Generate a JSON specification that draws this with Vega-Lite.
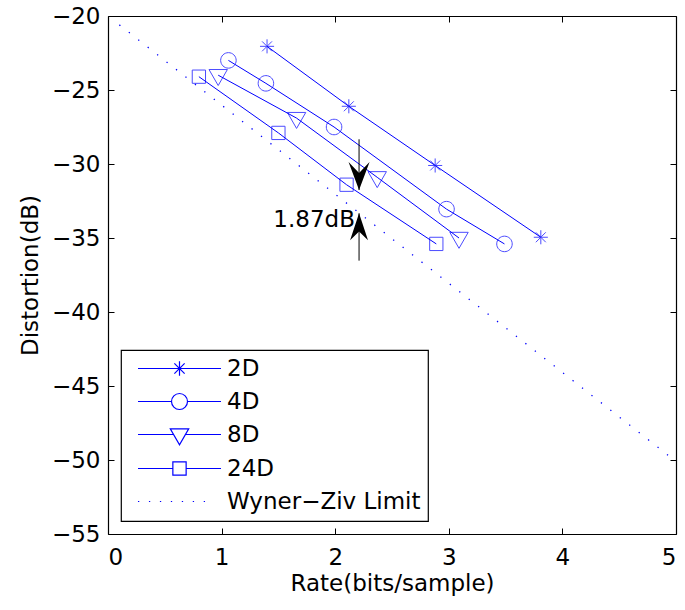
{
  "$schema": "https://vega.github.io/schema/vega-lite/v6.json",
  "width": 568,
  "height": 518,
  "autosize": "none",
  "padding": {"left": 108, "top": 16, "right": 9, "bottom": 76},
  "background": "white",
  "config": {
    "view": {"stroke": null},
    "font": "DejaVu Sans",
    "axis": {
      "grid": false,
      "domainColor": "black",
      "domainWidth": 1.2,
      "tickColor": "black",
      "tickWidth": 1,
      "tickSize": -6,
      "labelColor": "black",
      "titleColor": "black",
      "labelFont": "DejaVu Sans",
      "titleFont": "DejaVu Sans",
      "labelFontSize": 23,
      "titleFontSize": 23,
      "titleFontWeight": "normal"
    },
    "legend": {
      "orient": "bottom-left",
      "offset": 13,
      "strokeColor": "black",
      "strokeWidth": 1.2,
      "fillColor": "white",
      "padding": 7,
      "symbolSize": 256,
      "symbolStrokeWidth": 1.2,
      "symbolOpacity": 1,
      "labelFont": "DejaVu Sans",
      "labelFontSize": 23,
      "labelColor": "black",
      "labelLimit": 400,
      "labelOffset": 36,
      "symbolOffset": 40,
      "rowPadding": 9
    }
  },
  "datasets": {
    "curves": [
      {"series": "2D", "rate": 1.40, "dist": -22.05},
      {"series": "2D", "rate": 2.12, "dist": -26.1},
      {"series": "2D", "rate": 2.88, "dist": -30.1},
      {"series": "2D", "rate": 3.81, "dist": -34.95},
      {"series": "4D", "rate": 1.06, "dist": -23.0},
      {"series": "4D", "rate": 1.39, "dist": -24.55},
      {"series": "4D", "rate": 1.99, "dist": -27.5},
      {"series": "4D", "rate": 2.98, "dist": -33.05},
      {"series": "4D", "rate": 3.49, "dist": -35.4},
      {"series": "8D", "rate": 0.97, "dist": -24.0},
      {"series": "8D", "rate": 1.66, "dist": -26.9},
      {"series": "8D", "rate": 2.37, "dist": -30.9},
      {"series": "8D", "rate": 3.09, "dist": -35.0},
      {"series": "24D", "rate": 0.80, "dist": -24.1},
      {"series": "24D", "rate": 1.50, "dist": -27.9},
      {"series": "24D", "rate": 2.10, "dist": -31.4},
      {"series": "24D", "rate": 2.89, "dist": -35.4}
    ],
    "limit": [
      {"series": "Wyner−Ziv Limit", "rate": 0.1, "dist": -20.6},
      {"series": "Wyner−Ziv Limit", "rate": 5.0, "dist": -50.1}
    ],
    "shafts": [
      {"rate": 2.21, "d1": -28.33, "d2": -31.76},
      {"rate": 2.21, "d1": -33.33, "d2": -36.53}
    ],
    "downArrow": [{"rate": 2.21, "dist": -31.76}],
    "upArrow": [{"rate": 2.21, "dist": -33.33}],
    "note": [{"rate": 2.174, "dist": -34.28, "label": "1.87dB"}]
  },
  "layer": [
    {
      "data": {"name": "limit"},
      "mark": {"type": "line", "color": "#0000ff", "strokeWidth": 1.3, "strokeDash": [1.3, 10.7], "strokeCap": "butt"},
      "encoding": {
        "x": {"field": "rate", "type": "quantitative", "scale": {"domain": [0, 5], "nice": false, "zero": false},
              "axis": {"orient": "top", "labels": false, "title": null, "values": [0, 1, 2, 3, 4, 5]}},
        "y": {"field": "dist", "type": "quantitative", "scale": {"domain": [-55, -20], "nice": false, "zero": false},
              "axis": {"orient": "right", "labels": false, "title": null, "values": [-55, -50, -45, -40, -35, -30, -25, -20]}}
      }
    },
    {
      "data": {"name": "curves"},
      "mark": {"type": "line", "color": "#0000ff", "strokeWidth": 1},
      "encoding": {
        "x": {"field": "rate", "type": "quantitative",
              "axis": {"orient": "bottom", "title": "Rate(bits/sample)", "values": [0, 1, 2, 3, 4, 5], "labelPadding": 18,
                       "titleX": 284, "titleY": 56, "titleBaseline": "alphabetic", "titleAnchor": "middle", "titleAlign": "center"}},
        "y": {"field": "dist", "type": "quantitative",
              "axis": {"orient": "left", "title": "Distortion(dB)", "values": [-55, -50, -45, -40, -35, -30, -25, -20], "labelPadding": 14,
                       "titleX": -71, "titleY": 259, "titleBaseline": "alphabetic", "titleAngle": -90, "titleAlign": "center"}},
        "detail": {"field": "series", "type": "nominal"}
      }
    },
    {
      "data": {"name": "curves"},
      "mark": {"type": "point", "filled": false, "color": "#0000ff", "size": 256, "strokeWidth": 1},
      "encoding": {
        "x": {"field": "rate", "type": "quantitative", "axis": null},
        "y": {"field": "dist", "type": "quantitative", "axis": null},
        "shape": {"field": "series", "type": "nominal", "legend": null,
                  "scale": {"domain": ["2D", "4D", "8D", "24D"],
                            "range": [
                              "M-0.88,0H0.88M0,-0.88V0.88M-0.62,-0.62L0.62,0.62M-0.62,0.62L0.62,-0.62",
                              "M-0.97,0A0.97,0.97,0,1,1,0.97,0A0.97,0.97,0,1,1,-0.97,0",
                              "M-1.15,-0.71H1.15L0,1.29Z",
                              "M-0.83,-0.83H0.83V0.83H-0.83Z"
                            ]}}
      }
    },
    {
      "data": {"name": "curves"},
      "mark": {"type": "point", "filled": false, "color": "#0000ff", "size": 256, "strokeWidth": 1.2, "opacity": 0},
      "encoding": {
        "x": {"field": "rate", "type": "quantitative", "axis": null},
        "y": {"field": "dist", "type": "quantitative", "axis": null},
        "shape": {"field": "series", "type": "nominal",
                  "legend": {"title": null},
                  "scale": {"domain": ["2D", "4D", "8D", "24D", "Wyner−Ziv Limit"],
                            "range": [
                              "M-5.19,0H5.19M0,-0.9V0.9M-0.64,-0.64L0.64,0.64M-0.64,0.64L0.64,-0.64",
                              "M-5.19,0H-1M1,0H5.19M-1,0A1,1,0,1,1,1,0A1,1,0,1,1,-1,0",
                              "M-5.19,0H-0.74M0.74,0H5.19M-1.15,-0.71H1.15L0,1.29Z",
                              "M-5.19,0H-0.83M0.83,0H5.19M-0.83,-0.83H0.83V0.83H-0.83Z",
                              "M-5.19,0h0.16M-3.82,0h0.16M-2.45,0h0.16M-1.08,0h0.16M0.29,0h0.16M1.66,0h0.16M3.03,0h0.16"
                            ]}}
      }
    },
    {
      "data": {"name": "shafts"},
      "mark": {"type": "rule", "color": "black", "strokeWidth": 1},
      "encoding": {
        "x": {"field": "rate", "type": "quantitative", "axis": null},
        "y": {"field": "d1", "type": "quantitative", "axis": null},
        "y2": {"field": "d2"}
      }
    },
    {
      "data": {"name": "downArrow"},
      "mark": {"type": "point", "filled": true, "color": "black", "opacity": 1, "size": 784, "strokeWidth": 0,
               "shape": "M0,0L-0.75,-2L0,-1.21L0.75,-2Z"},
      "encoding": {
        "x": {"field": "rate", "type": "quantitative", "axis": null},
        "y": {"field": "dist", "type": "quantitative", "axis": null}
      }
    },
    {
      "data": {"name": "upArrow"},
      "mark": {"type": "point", "filled": true, "color": "black", "opacity": 1, "size": 784, "strokeWidth": 0,
               "shape": "M0,0L-0.64,1.93L0,1.31L0.64,1.93Z"},
      "encoding": {
        "x": {"field": "rate", "type": "quantitative", "axis": null},
        "y": {"field": "dist", "type": "quantitative", "axis": null}
      }
    },
    {
      "data": {"name": "note"},
      "mark": {"type": "text", "align": "right", "baseline": "alphabetic", "font": "DejaVu Sans", "fontSize": 23, "color": "black"},
      "encoding": {
        "x": {"field": "rate", "type": "quantitative", "axis": null},
        "y": {"field": "dist", "type": "quantitative", "axis": null},
        "text": {"field": "label"}
      }
    }
  ],
  "resolve": {
    "axis": {"x": "independent", "y": "independent"},
    "scale": {"shape": "independent"}
  }
}
